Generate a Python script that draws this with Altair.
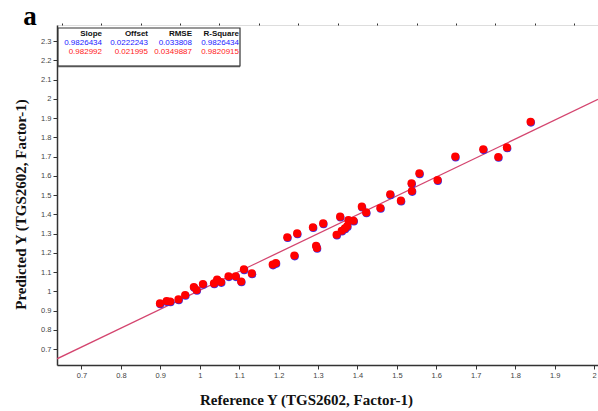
import altair as alt
import pandas as pd

# ---- data ----
ref_x = [0.899, 0.916, 0.925, 0.946, 0.963, 0.985, 0.992, 1.008, 1.036, 1.044,
         1.054, 1.073, 1.091, 1.105, 1.112, 1.132, 1.185, 1.193, 1.222, 1.240,
         1.247, 1.287, 1.295, 1.297, 1.313, 1.347, 1.356, 1.360, 1.368, 1.374,
         1.377, 1.390, 1.411, 1.422, 1.458, 1.483, 1.510, 1.537, 1.538, 1.557,
         1.603, 1.648, 1.719, 1.757, 1.779, 1.839]
pred_y = [0.937, 0.949, 0.947, 0.958, 0.981, 1.022, 1.007, 1.038, 1.041, 1.061,
          1.048, 1.078, 1.078, 1.051, 1.114, 1.093, 1.139, 1.147, 1.281, 1.186,
          1.301, 1.333, 1.237, 1.225, 1.353, 1.294, 1.388, 1.315, 1.327, 1.339,
          1.370, 1.367, 1.440, 1.410, 1.433, 1.504, 1.471, 1.561, 1.521, 1.613,
          1.578, 1.700, 1.738, 1.698, 1.748, 1.881]

stat_headers = ["Slope", "Offset", "RMSE", "R-Square"]
stats_cal = ["0.9826434", "0.0222243", "0.033808", "0.9826434"]
stats_val = ["0.982992", "0.021995", "0.0349887", "0.9820915"]
slope = 0.9826434
offset = 0.0222243

x_major = [0.7, 0.8, 0.9, 1.0, 1.1, 1.2, 1.3, 1.4, 1.5, 1.6, 1.7, 1.8, 1.9, 2.0]
x_minor = [0.65, 0.75, 0.85, 0.95, 1.05, 1.15, 1.25, 1.35, 1.45, 1.55, 1.65,
           1.75, 1.85, 1.95]
y_major = [0.7, 0.8, 0.9, 1.0, 1.1, 1.2, 1.3, 1.4, 1.5, 1.6, 1.7, 1.8, 1.9, 2.0,
           2.1, 2.2, 2.3]
y_minor = [0.65, 0.75, 0.85, 0.95, 1.05, 1.15, 1.25, 1.35, 1.45, 1.55, 1.65,
           1.75, 1.85, 1.95, 2.05, 2.15, 2.25, 2.35]

x_title = "Reference Y (TGS2602, Factor-1)"
y_title = "Predicted Y (TGS2602, Factor-1)"
panel_label = "a"

X_DOM = [0.638, 2.01]
Y_DOM = [0.617, 2.384]

W, H = 541, 340

pts = pd.DataFrame({"x": ref_x, "y": pred_y})
line_df = pd.DataFrame({"x": X_DOM, "y": [slope * v + offset for v in X_DOM]})

xs = alt.Scale(domain=X_DOM, nice=False, zero=False)
ys = alt.Scale(domain=Y_DOM, nice=False, zero=False)

major_axis = dict(
    grid=False, domainColor="#333333", domainWidth=1.5, tickColor="#333333",
    tickSize=4, labelFont="Liberation Sans", format=".1~f",
    labelFontSize=7.5, labelColor="#444444", labelPadding=2, labelOverlap=False,
    labelFlush=False, titleFont="Liberation Serif", titleFontSize=15,
    titleFontWeight="bold", titleColor="#111111", titleBaseline="middle",
    titleAlign="center",
)
minor_axis = dict(grid=False, domain=False, labels=False, tickColor="#333333",
                  tickSize=2, title=None)

x_axis = alt.Axis(values=x_major, title=x_title, titleX=249, titleY=34, **major_axis)
y_axis = alt.Axis(values=y_major, title=y_title, titleX=-37, titleY=179,
                  titleAngle=270, **major_axis)

line = alt.Chart(line_df).mark_line(color="#d4456f", strokeWidth=1.3, clip=True).encode(
    x=alt.X("x:Q", scale=xs, axis=x_axis),
    y=alt.Y("y:Q", scale=ys, axis=y_axis),
)

blue_pts = alt.Chart(pts).mark_circle(size=66, color="#3a2ee6", opacity=1,
                                      xOffset=0.4, yOffset=0.8).encode(
    x=alt.X("x:Q", scale=xs, axis=alt.Axis(values=x_minor, **minor_axis)),
    y=alt.Y("y:Q", scale=ys, axis=alt.Axis(values=y_minor, **minor_axis)))
red_pts = alt.Chart(pts).mark_circle(size=66, color="#ff0000", opacity=1).encode(
    x=alt.X("x:Q", scale=xs, axis=None), y=alt.Y("y:Q", scale=ys, axis=None))

box = alt.Chart(pd.DataFrame({"k": [0]})).mark_rect(
    fill="white", stroke="#333333", strokeWidth=1.2).encode(
    x=alt.value(1), x2=alt.value(183), y=alt.value(3), y2=alt.value(41))
box_shadow = alt.Chart(pd.DataFrame({"k": [0]})).mark_rule(
    color="#555555", strokeWidth=1.5).encode(
    x=alt.value(1), x2=alt.value(183), y=alt.value(41.5))

layers = [line, blue_pts, red_pts, box, box_shadow]

col_right = [45, 91, 135, 182]
rows = [(stat_headers, "#111111", 9.2, "bold"),
        (stats_cal, "#1a1aff", 18.2, "normal"),
        (stats_val, "#ff1a1a", 27.2, "normal")]
for texts, color, ypos, weight in rows:
    for i, t in enumerate(texts):
        layers.append(
            alt.Chart(pd.DataFrame({"t": [t]})).mark_text(
                align="right", baseline="middle", font="Liberation Sans",
                fontSize=8, color=color, fontWeight=weight).encode(
                x=alt.value(col_right[i]), y=alt.value(ypos), text="t:N"))

layers.append(
    alt.Chart(pd.DataFrame({"t": [panel_label]})).mark_text(
        align="center", baseline="alphabetic", font="Liberation Serif",
        fontSize=27, fontWeight="bold", color="#000000").encode(
        x=alt.value(-27), y=alt.value(0), text="t:N"))

chart = alt.layer(*layers).resolve_axis(x="independent", y="independent").properties(
    width=W, height=H, autosize="none",
    padding={"left": 57, "top": 25, "right": 0, "bottom": 46},
).configure_view(stroke=None).configure(background="white")

chart.save("out.html", embed_options={"renderer": "svg", "actions": False})
